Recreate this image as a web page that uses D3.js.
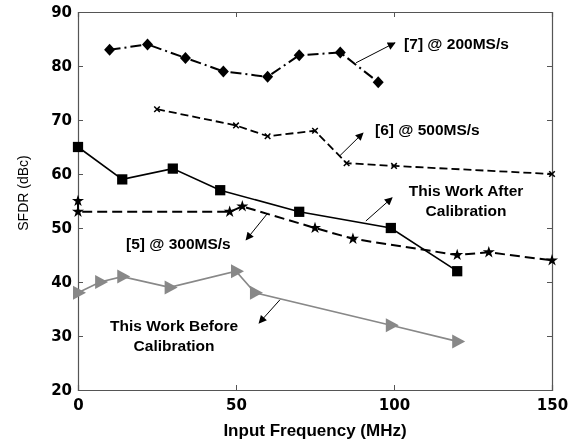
<!DOCTYPE html>
<html>
<head>
<meta charset="utf-8">
<script src="https://cdn.jsdelivr.net/npm/d3@7"></script>
<style>
  body { margin: 0; background: #fff; }
  svg { display: block; font-family: Arial, "Liberation Sans", sans-serif; will-change: transform; }
</style>
</head>
<body>
<div id="target"></div>
<script>
// data
const xTicks = [0, 50, 100, 150]
const yTicks = [20, 30, 40, 50, 60, 70, 80, 90]

const ref7X = [10, 22, 34, 46, 60, 70, 83, 95]
const ref7Y = [83, 84, 81.5, 79, 78, 82, 82.5, 77]

const ref6X = [25, 50, 60, 75, 85, 100, 150]
const ref6Y = [72, 69, 67, 68, 62, 61.5, 60]

const afterX = [0, 14, 30, 45, 70, 99, 120]
const afterY = [65, 59, 61, 57, 53, 50, 42]

const ref5X = [0, 0, 48, 52, 75, 87, 120, 130, 150]
const ref5Y = [55, 53, 53, 54, 50, 48, 45, 45.5, 44]

const beforeX = [0, 7, 14, 29, 50, 56, 99, 120]
const beforeY = [38, 40, 41, 39, 42, 38, 32, 29]

const labels = [
  { lines: ["[7] @ 200MS/s"], x: 103.2, y: 84.1, anchor: "start", from: [88, 80.6], to: [100.3, 84.3] },
  { lines: ["[6] @ 500MS/s"], x: 94, y: 68.3, anchor: "start", from: [82.9, 63.4], to: [90.2, 67.6] },
  { lines: ["This Work After", "Calibration"], x: 122.8, y: 57.0, anchor: "middle", from: [91.1, 51.3], to: [99.4, 55.6] },
  { lines: ["[5] @ 300MS/s"], x: 15.2, y: 47.2, anchor: "start", from: [60.1, 52.8], to: [53.2, 47.8] },
  { lines: ["This Work Before", "Calibration"], x: 30.4, y: 32.0, anchor: "middle", from: [63.9, 36.7], to: [57.3, 32.4] }
]

const width = 581
const height = 440
const margin = { top: 12, right: 29, bottom: 50, left: 78 }

const svg = d3.select("#target").append("svg")
  .attr("width", width)
  .attr("height", height)

const x = d3.scaleLinear().domain([0, 150]).range([margin.left, width - margin.right])
const y = d3.scaleLinear().domain([20, 90]).range([height - margin.bottom, margin.top])

svg.append("defs").append("marker")
  .attr("id", "head")
  .attr("viewBox", "0 0 10 10")
  .attr("refX", 9).attr("refY", 5)
  .attr("markerWidth", 10).attr("markerHeight", 8)
  .attr("markerUnits", "userSpaceOnUse")
  .attr("orient", "auto")
  .append("path")
  .attr("d", "M0,0 L10,5 L0,10 Z")
  .attr("fill", "#000")

//Axes (ticks inward on all four sides)
const axisColor = "#555"
const tickLen = 5

const axisBottom = svg.append("g")
  .attr("transform", `translate(0,${y(20)})`)
  .call(d3.axisBottom(x).tickValues(xTicks).tickSize(-tickLen).tickPadding(9))
const axisTop = svg.append("g")
  .attr("transform", `translate(0,${y(90)})`)
  .call(d3.axisTop(x).tickValues(xTicks).tickSize(-tickLen).tickFormat(""))
const axisLeft = svg.append("g")
  .attr("transform", `translate(${x(0)},0)`)
  .call(d3.axisLeft(y).tickValues(yTicks).tickSize(-tickLen).tickPadding(6))
const axisRight = svg.append("g")
  .attr("transform", `translate(${x(150)},0)`)
  .call(d3.axisRight(y).tickValues(yTicks).tickSize(-tickLen).tickFormat(""))

;[axisBottom, axisTop, axisLeft, axisRight].forEach(g => {
  g.select(".domain").attr("stroke", axisColor).attr("stroke-width", 1.2)
  g.selectAll(".tick line").attr("stroke", axisColor)
  g.selectAll("text")
    .attr("fill", "#000")
    .attr("font-size", 15)
    .attr("font-weight", "bold")
    .attr("font-family", "'DejaVu Sans', sans-serif")
})

svg.append("text")
  .attr("x", (x(0) + x(150)) / 2)
  .attr("y", 436)
  .attr("text-anchor", "middle")
  .attr("font-size", 17)
  .attr("font-weight", "bold")
  .attr("fill", "#000")
  .text("Input Frequency (MHz)")

svg.append("text")
  .attr("transform", `translate(28,193) rotate(-90)`)
  .attr("text-anchor", "middle")
  .attr("font-size", 14)
  .attr("fill", "#000")
  .text("SFDR (dBc)")

//Series
const line = d3.line().x(d => x(d[0])).y(d => y(d[1]))
const zip = (xs, ys) => xs.map((v, i) => [v, ys[i]])

const series = [
  { pts: zip(beforeX, beforeY), color: "#888", width: 1.6, dash: null, symbol: "tri" },
  { pts: zip(ref7X, ref7Y), color: "#000", width: 2, dash: "11,4,2,4", symbol: "diamond" },
  { pts: zip(ref6X, ref6Y), color: "#000", width: 1.8, dash: "8,4", symbol: "x" },
  { pts: zip(ref5X, ref5Y), color: "#000", width: 2, dash: "10,5", symbol: d3.symbolStar, size: 45 },
  { pts: zip(afterX, afterY), color: "#000", width: 1.6, dash: null, symbol: d3.symbolSquare, size: 105 }
]

series.forEach(s => {
  svg.append("path")
    .attr("d", line(s.pts))
    .attr("fill", "none")
    .attr("stroke", s.color)
    .attr("stroke-width", s.width)
    .attr("stroke-dasharray", s.dash)

  const marks = svg.append("g").selectAll("path")
    .data(s.pts)
    .enter()
    .append("path")
    .attr("transform", d => `translate(${x(d[0])},${y(d[1])})`)

  if (s.symbol === "tri") {
    marks.attr("d", "M-5,-7 L8,0 L-5,7 Z").attr("fill", s.color)
  } else if (s.symbol === "diamond") {
    marks.attr("d", "M0,-6 L5.5,0 L0,6 L-5.5,0 Z").attr("fill", s.color)
  } else if (s.symbol === "x") {
    marks.attr("d", d3.symbol(d3.symbolTimes, 22))
      .attr("fill", "none").attr("stroke", "#000").attr("stroke-width", 1.5)
  } else {
    marks.attr("d", d3.symbol(s.symbol, s.size)).attr("fill", s.color)
  }
})

//Annotations
labels.forEach(l => {
  svg.append("line")
    .attr("x1", x(l.from[0])).attr("y1", y(l.from[1]))
    .attr("x2", x(l.to[0])).attr("y2", y(l.to[1]))
    .attr("stroke", "#000")
    .attr("stroke-width", 1)
    .attr("marker-end", "url(#head)")

  const t = svg.append("text")
    .attr("text-anchor", l.anchor)
    .attr("font-size", 15.5)
    .attr("font-weight", "bold")
    .attr("fill", "#000")
  l.lines.forEach((s, i) => {
    t.append("tspan")
      .attr("x", x(l.x))
      .attr("y", y(l.y) + i * 20)
      .attr("dy", "0.35em")
      .text(s)
  })
})
</script>
</body>
</html>
